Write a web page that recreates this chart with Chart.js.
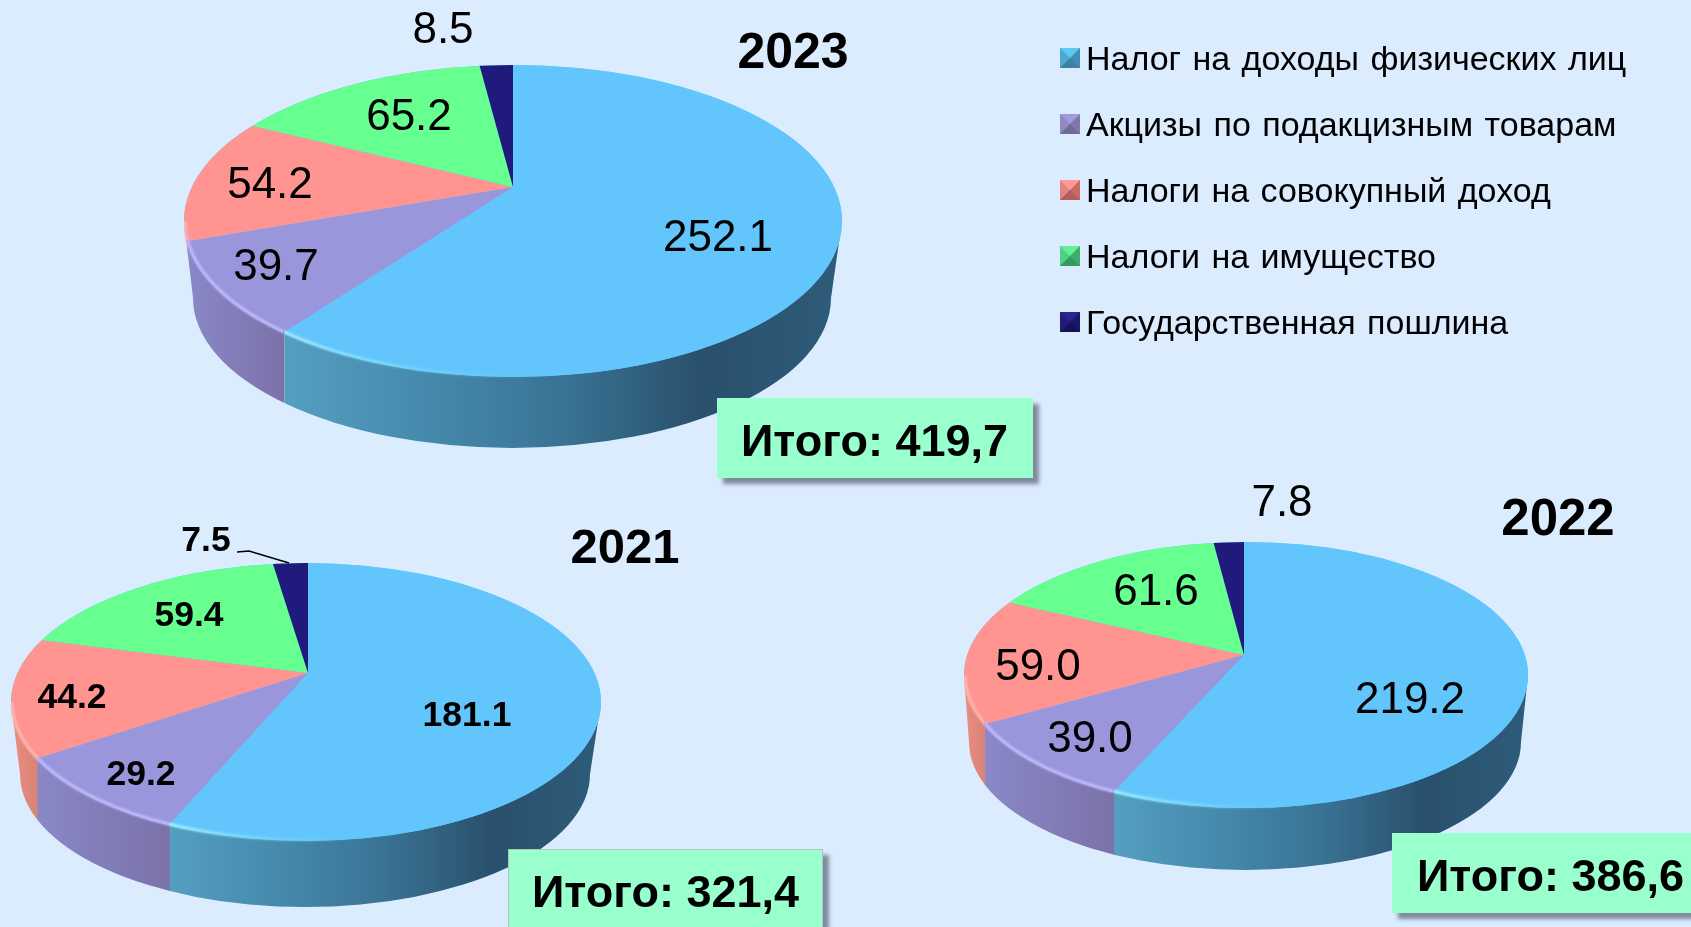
<!DOCTYPE html>
<html lang="ru">
<head>
<meta charset="utf-8">
<title>Налоговые доходы</title>
<script src="https://cdn.jsdelivr.net/npm/chart.js@4"></script>
<style>
  html, body { margin: 0; padding: 0; width: 1691px; height: 927px; overflow: hidden; background: #dbecff; }
  body { position: relative; font-family: "Liberation Sans", Arial, sans-serif; color: #000; }
  canvas { position: absolute; left: 0; top: 0; }
  .title { position: absolute; font-weight: bold; transform: translate(-50%, -50%); white-space: nowrap; }
  .total { position: absolute; background: #99ffcc; box-shadow: 6px 6px 4px #7f8a9c; font-weight: bold; font-size: 45px;
           display: flex; align-items: center; white-space: nowrap; box-sizing: border-box; padding-top: 6px; }
  .legend-row { position: absolute; left: 1060px; height: 40px; display: flex; align-items: center; font-size: 34px; white-space: nowrap; word-spacing: 2px; }
  .swatch { box-sizing: border-box; width: 20px; height: 20px; border: 10px solid; margin-right: 6px; }
</style>
</head>
<body>
<canvas id="pie2023" width="1691" height="927"></canvas>
<canvas id="pie2021" width="1691" height="927"></canvas>
<canvas id="pie2022" width="1691" height="927"></canvas>
<script>
const categories = ["Налог на доходы физических лиц", "Акцизы по подакцизным товарам", "Налоги на совокупный доход", "Налоги на имущество", "Государственная пошлина"];
const values2023 = [252.1, 39.7, 54.2, 65.2, 8.5];
const values2022 = [219.2, 39.0, 59.0, 61.6, 7.8];
const values2021 = [181.1, 29.2, 44.2, 59.4, 7.5];
const totalLabels = { 2023: "Итого: 419,7", 2022: "Итого: 386,6", 2021: "Итого: 321,4" };

const sliceColors = ["#62c6fd", "#9a96dc", "#ff9490", "#66ff90", "#1f1a7c"];
// side wall gradient of each slice, left to right
const wallColors = [
  ["#549fc0", "#458aac", "#3a7394", "#29506c", "#2e5c7a"],
  ["#8a88c8", "#7b72a8"],
  ["#ee8c80", "#d88478"],
  ["#50c080", "#50c080"],
  ["#1f1a7c", "#1f1a7c"]
];
const rimColors = ["#a8f0ff", "#c4bcff", "#ffb8b0", "#a0ffc0", "#4a44b0"];
const swatchColors = [
  ["#5ccaf0", "#3f90b4", "#3f7f9f", "#4fa8d0"],
  ["#a09ade", "#7f78a8", "#6f6a98", "#8f8ac0"],
  ["#ff9a96", "#c86a68", "#b05e5c", "#e08480"],
  ["#66ee96", "#3fae6c", "#359a5e", "#52d082"],
  ["#2a2590", "#1a1668", "#15125a", "#201c78"]
];

// top ellipse (cx, cy, rx, ry), bottom ellipse (bcx, bcy, brx, bry), apex of the slices
const pies = {
  2023: { values: values2023, cx: 513, cy: 221, rx: 329, ry: 156, bcx: 512, bcy: 298, brx: 319, bry: 150, ax: 513, ay: 187, k: 0.465,
          font: "44px", labels: [[718, 239], [276, 268], [270, 186], [409, 118], [443, 31]] },
  2022: { values: values2022, cx: 1246, cy: 675, rx: 282, ry: 133, bcx: 1245, bcy: 742, brx: 276, bry: 128, ax: 1244, ay: 655, k: 0.47,
          font: "44px", labels: [[1410, 701], [1090, 740], [1038, 668], [1156, 593], [1282, 504]] },
  2021: { values: values2021, cx: 306, cy: 702, rx: 295, ry: 139, bcx: 305, bcy: 774, brx: 285, bry: 133, ax: 308, ay: 673, k: 0.46,
          font: "bold 35.5px", labels: [[467, 716], [141, 775], [72, 698], [189, 616], [206, 541]],
          leader: [[237, 552], [249, 551], [289, 563]] }
};

// where the ray from the apex at this angle meets the top ellipse
function rimPoint(g, a) {
  const dx = Math.cos(a), dy = g.k * Math.sin(a);
  const ox = g.ax - g.cx, oy = g.ay - g.cy;
  const A = dx * dx / (g.rx * g.rx) + dy * dy / (g.ry * g.ry);
  const B = 2 * (ox * dx / (g.rx * g.rx) + oy * dy / (g.ry * g.ry));
  const C = ox * ox / (g.rx * g.rx) + oy * oy / (g.ry * g.ry) - 1;
  const t = (-B + Math.sqrt(B * B - 4 * A * C)) / (2 * A);
  return { x: g.ax + t * dx, y: g.ay + t * dy };
}

// x range of the part of a slice that sits on the front of the pie
function frontRange(g, arc) {
  let x1 = Infinity, x2 = -Infinity;
  for (let a = arc.startAngle; a <= arc.endAngle; a += 0.005) {
    const p = rimPoint(g, a);
    if (p.y >= g.cy) {
      x1 = Math.min(x1, p.x);
      x2 = Math.max(x2, p.x);
    }
  }
  return x1 < x2 ? [x1, x2] : null;
}

function gradient(ctx, x1, x2, colors) {
  const grad = ctx.createLinearGradient(x1, 0, x2, 0);
  colors.forEach((c, i) => grad.addColorStop(i / (colors.length - 1), c));
  return grad;
}

function drawWalls(ctx, g, arcs) {
  ctx.save();
  ctx.beginPath();
  ctx.moveTo(g.cx + g.rx, g.cy);
  ctx.lineTo(g.bcx + g.brx, g.bcy);
  ctx.ellipse(g.bcx, g.bcy, g.brx, g.bry, 0, 0, Math.PI);
  ctx.lineTo(g.cx - g.rx, g.cy);
  ctx.closePath();
  ctx.clip();
  arcs.forEach((arc, i) => {
    const r = frontRange(g, arc);
    if (!r) return;
    ctx.fillStyle = gradient(ctx, r[0], r[1], wallColors[i]);
    ctx.fillRect(r[0], g.cy - 5, r[1] - r[0] + 1, 300);
  });
  ctx.restore();
}

function drawRim(ctx, g, arcs) {
  arcs.forEach((arc, i) => {
    const r = frontRange(g, arc);
    if (!r) return;
    ctx.save();
    ctx.beginPath();
    ctx.rect(r[0], g.cy, r[1] - r[0], 300);
    ctx.clip();
    ctx.filter = "blur(1px)";
    const grad = ctx.createLinearGradient(r[0], 0, r[1], 0);
    grad.addColorStop(0, rimColors[i]);
    grad.addColorStop(i === 0 ? 0.5 : 1, i === 0 ? "rgba(98,198,253,0)" : rimColors[i]);
    ctx.strokeStyle = grad;
    ctx.lineWidth = 3;
    ctx.beginPath();
    ctx.ellipse(g.cx, g.cy, g.rx - 1, g.ry - 1, 0, 0, Math.PI);
    ctx.stroke();
    ctx.restore();
  });
}

function pie3d(g) {
  return {
    id: "pie3d",
    beforeDatasetsDraw(chart) {
      const ctx = chart.ctx;
      const arcs = chart.getDatasetMeta(0).data;
      drawWalls(ctx, g, arcs);
      // the pie is drawn much larger than the top face and cut down to it
      const s = 1.6 * g.rx / arcs[0].outerRadius;
      ctx.save();
      ctx.beginPath();
      ctx.ellipse(g.cx, g.cy, g.rx, g.ry, 0, 0, Math.PI * 2);
      ctx.fillStyle = "#62c6fd";
      ctx.fill();
      ctx.clip();
      ctx.translate(g.ax, g.ay);
      ctx.scale(s, s * g.k);
      ctx.translate(-arcs[0].x, -arcs[0].y);
    },
    afterDatasetsDraw(chart) {
      const ctx = chart.ctx;
      ctx.restore();
      drawRim(ctx, g, chart.getDatasetMeta(0).data);
      ctx.fillStyle = "#000";
      ctx.font = g.font + ' "Liberation Sans", Arial, sans-serif';
      ctx.textAlign = "center";
      ctx.textBaseline = "middle";
      g.values.forEach((v, i) => ctx.fillText(v.toFixed(1), g.labels[i][0], g.labels[i][1]));
      if (g.leader) {
        ctx.strokeStyle = "#000";
        ctx.lineWidth = 1.5;
        ctx.beginPath();
        g.leader.forEach((p, i) => i ? ctx.lineTo(p[0], p[1]) : ctx.moveTo(p[0], p[1]));
        ctx.stroke();
      }
    }
  };
}

Object.keys(pies).forEach(year => {
  const g = pies[year];
  new Chart(document.getElementById("pie" + year), {
    type: "pie",
    data: {
      labels: categories,
      datasets: [{ data: g.values, backgroundColor: sliceColors, borderWidth: 0, clip: false }]
    },
    options: {
      responsive: false,
      animation: false,
      events: [],
      plugins: { legend: { display: false }, tooltip: { enabled: false } }
    },
    plugins: [pie3d(g)]
  });
});

function addDiv(className, css, text) {
  const el = document.createElement("div");
  el.className = className;
  el.style.cssText = css;
  if (text) el.textContent = text;
  document.body.appendChild(el);
  return el;
}

addDiv("title", "left:793px;top:51px;font-size:50px", "2023");
addDiv("title", "left:625px;top:546px;font-size:49px", "2021");
addDiv("title", "left:1558px;top:517px;font-size:51px", "2022");

addDiv("total", "left:717px;top:398px;width:316px;height:80px;padding-left:24px", totalLabels[2023]);
addDiv("total", "left:508px;top:849px;width:315px;height:80px;padding-left:23px;border:1px solid #b0c4c0", totalLabels[2021]);
addDiv("total", "left:1392px;top:833px;width:310px;height:80px;padding-left:25px", totalLabels[2022]);

categories.forEach((name, i) => {
  const row = addDiv("legend-row", "top:" + (38 + i * 66) + "px");
  const sw = document.createElement("span");
  sw.className = "swatch";
  sw.style.borderColor = swatchColors[i].join(" ");
  row.appendChild(sw);
  row.appendChild(document.createTextNode(name));
});
</script>
</body>
</html>
